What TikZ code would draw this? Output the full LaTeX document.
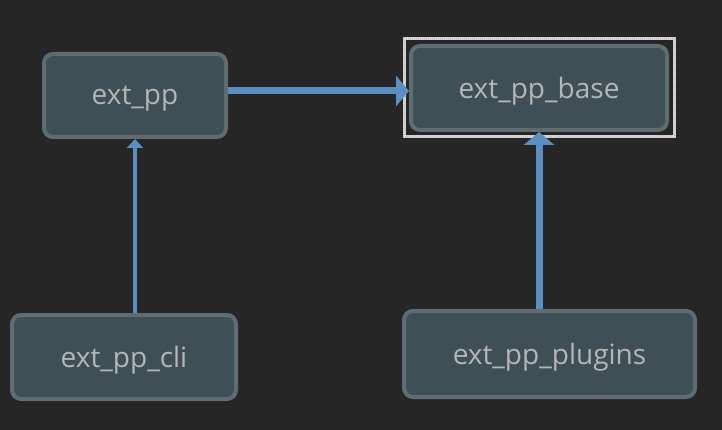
\documentclass[tikz,border=0pt]{standalone}
\usepackage{fontspec}
\setmainfont{Open Sans}
\usepackage{tikz}
\usetikzlibrary{arrows.meta}

\definecolor{bgdark}{HTML}{262626}
\definecolor{boxfill}{HTML}{3E4F55}
\definecolor{boxline}{HTML}{5F6C72}
\definecolor{boxtext}{HTML}{B4B6B3}
\definecolor{linkblue}{HTML}{5B8FC2}

\begin{document}
\begin{tikzpicture}[x=1pt, y=-1pt,
	every node/.style={font=\fontsize{28}{32}\selectfont},
	pkg/.style={draw=boxline, fill=boxfill, text=boxtext, line width=4pt, rounded corners=9pt, anchor=center, inner sep=0pt, text depth=0pt},
	thinlink/.style={draw=linkblue, line width=4pt, -{Triangle[width=16pt, length=9pt]}},
	thicklink/.style={draw=linkblue, line width=7pt, -{Triangle[width=30pt, length=13pt]}},
	selbox/.style={draw=gray!45, line width=3pt, postaction={draw=white!70!gray, line width=3pt, dash pattern=on 1pt off 1pt}}]
	\useasboundingbox[fill=bgdark] (0,0) rectangle (722,430);
	% packages
	\node[pkg, minimum width=182pt, minimum height=83pt] (ext_pp) at (135,95.5) {ext\_pp};
	\node[pkg, minimum width=256pt, minimum height=84pt] (ext_pp_base) at (539,88) {ext\_pp\_base};
	\node[pkg, minimum width=224pt, minimum height=84pt] (ext_pp_cli) at (124,357) {ext\_pp\_cli};
	\node[pkg, minimum width=291pt, minimum height=86pt] (ext_pp_plugins) at (549.5,354) {ext\_pp\_plugins};
	% selection frame
	\draw[selbox] ([shift={(-5pt,5pt)}]ext_pp_base.north west) rectangle ([shift={(5pt,-5pt)}]ext_pp_base.south east);
	% dependencies
	\draw[thicklink] ([yshift=4.5pt]ext_pp.east) -- ([yshift=4.5pt]ext_pp.east -| ext_pp_base.west);
	\draw[thinlink] (ext_pp_cli.north -| ext_pp.south) -- (ext_pp.south);
	\draw[thicklink] (ext_pp_plugins.north -| ext_pp_base.south) -- (ext_pp_base.south);
\end{tikzpicture}
\end{document}
